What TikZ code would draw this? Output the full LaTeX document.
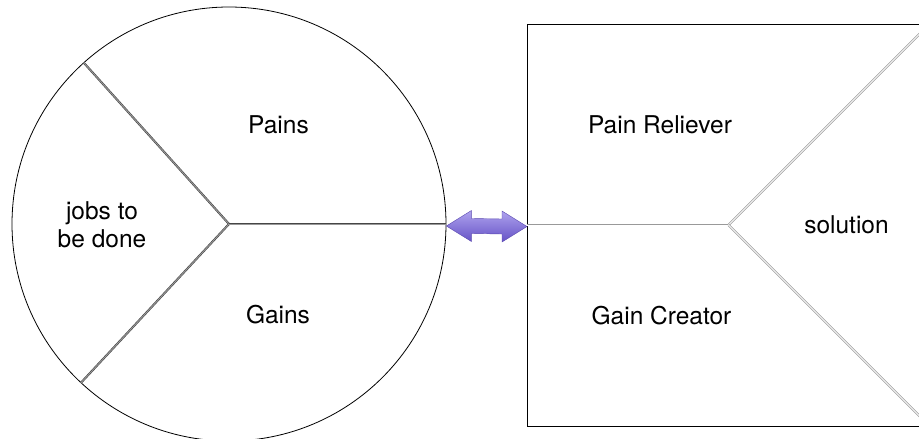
\documentclass[tikz,border=0pt]{standalone}
\usepackage{fontspec}
\setmainfont{TeX Gyre Heros}
\usetikzlibrary{calc}
\definecolor{arrowtop}{HTML}{AFA3EE}
\definecolor{arrowbot}{HTML}{6552C6}
\definecolor{arrowedge}{HTML}{5A48B0}
\begin{document}
\begin{tikzpicture}[x=1pt,y=-1pt,
  lbl/.style={font=\fontsize{24.5}{28}\selectfont, align=center, inner sep=0pt},
  custspoke/.style={draw=gray!55!black, double=gray!80, double distance=0.9pt, line width=0.6pt},
  valspoke/.style={draw=gray!80, double=white, double distance=1pt, line width=0.6pt},
]
\useasboundingbox (0,0) rectangle (919,439);

% customer profile: circle split into three parts
\node[circle, draw, line width=0.8pt, minimum size=434pt, inner sep=0pt] (cust) at (229,224) {};
\draw[custspoke] (cust.center) -- (cust.132.8);
\draw[custspoke] (cust.center) -- (cust.227.4);
\draw[custspoke] (cust.center) -- (cust.east);

% value map: square split into three parts
\node[draw, line width=1pt, minimum width=402pt, minimum height=402pt, inner sep=0pt,
      anchor=north west] (val) at (527,23.5) {};
\draw[valspoke] (val.center) -- (val.west);
\draw[valspoke] (val.center) -- (val.north east);
\draw[valspoke] (val.center) -- (val.south east);

% fit arrow between the two
\path (cust.east) ++(0,2) coordinate (aL);
\path (val.west) ++(0,1.5) coordinate (aR);
\shade[top color=arrowtop, bottom color=arrowbot, draw=arrowedge, line width=0.4pt]
  (aL) -- ($(aL)+(25,-15.5)$) -- ($(aL)+(25,-7.5)$) -- ($(aR)+(-25,-7.5)$)
  -- ($(aR)+(-25,-15.5)$) -- (aR) -- ($(aR)+(-25,15.5)$) -- ($(aR)+(-25,7.5)$)
  -- ($(aL)+(25,7.5)$) -- ($(aL)+(25,15.5)$) -- cycle;

% labels
\node[lbl, anchor=base] (pains) at (278.5,133.3) {Pains};
\node[lbl, anchor=base] (gains) at (278,323.3) {Gains};
\node[lbl, anchor=center] (jobs) at (102,224.5) {jobs to\\be done};
\node[lbl, anchor=base] (relief) at (660,133.3) {Pain Reliever};
\node[lbl, anchor=base] (creator) at (661.5,324) {Gain Creator};
\node[lbl, anchor=base] (sol) at (846.5,233) {solution};
\end{tikzpicture}
\end{document}
